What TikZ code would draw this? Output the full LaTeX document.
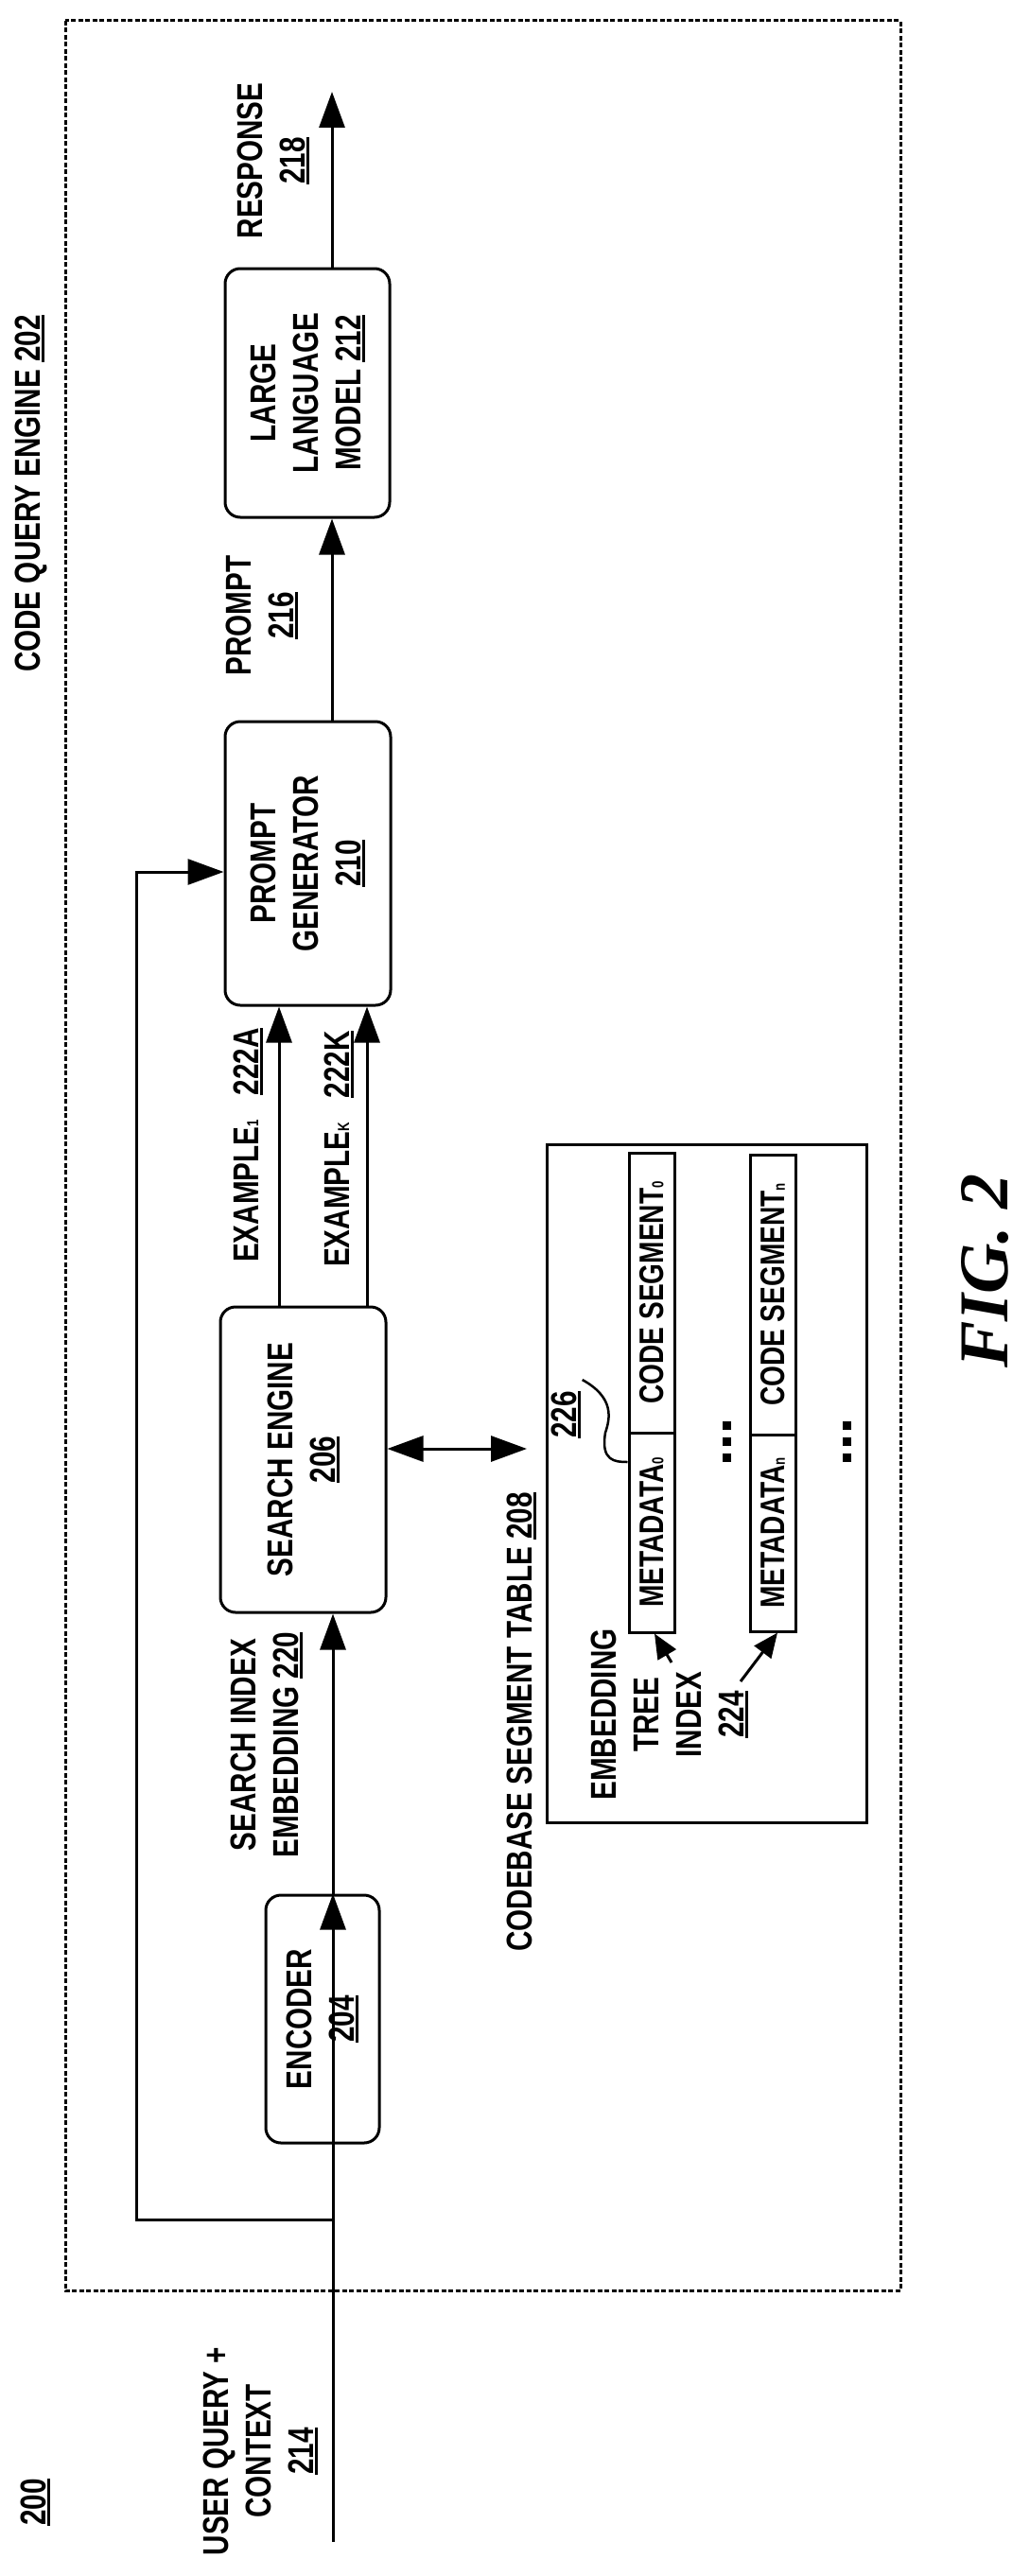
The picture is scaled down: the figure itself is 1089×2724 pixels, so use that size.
\documentclass[tikz,border=0pt]{standalone}
\usepackage{fontspec}
\setmainfont{Liberation Sans}[FakeStretch=0.78]
\newfontfamily\figfont{Liberation Serif}
\usetikzlibrary{arrows.meta}
\newcommand\ulnum[1]{\setbox0\hbox{#1}\rlap{\rule[-4.5pt]{\wd0}{2.6pt}}\box0}
\newcommand\lsub[1]{{\fontsize{17}{17}\selectfont #1}}
\begin{document}
\begin{tikzpicture}[x=1pt,y=-1pt,
  txt/.style={rotate=90,font=\bfseries\fontsize{38}{45}\selectfont,align=center,inner sep=0pt},
  box/.style={draw,line width=3pt,rounded corners=16pt,rotate=90,inner sep=0pt,font=\bfseries\fontsize{38}{45}\selectfont,align=center},
  cell/.style={draw,line width=3pt,rotate=90,inner sep=0pt,minimum height=48pt,font=\bfseries\fontsize{36}{42}\selectfont},
  arr/.style={line width=3pt,-{Triangle[length=38pt,width=27pt]}},
  sarr/.style={line width=3pt,-{Triangle[length=26pt,width=22pt]}},
  dot/.style={fill=black,minimum size=9pt,inner sep=0pt}]
\useasboundingbox (0,0) rectangle (1089,2724);
\fill[white] (0,0) rectangle (1089,2724);
% frame
\draw[line width=3pt,dash pattern=on 5pt off 2.5pt] (69,22) rectangle (952,2422);
\node[txt] (cqe) at (33,522) {CODE QUERY ENGINE \ulnum{202}};
% boxes
\node[box,minimum width=263pt,minimum height=174pt] (llm) at (325,415.5) {LARGE\\LANGUAGE\\MODEL \ulnum{212}};
\node[box,minimum width=300pt,minimum height=175pt] (pg) at (325.5,913) {PROMPT\\GENERATOR\\\ulnum{210}};
\node[box,minimum width=323pt,minimum height=175pt] (se) at (320.5,1543.5) {SEARCH ENGINE\\\ulnum{206}};
\node[box,minimum width=262pt,minimum height=120pt] (enc) at (341,2135) {ENCODER\\\ulnum{204}};
% table
\node[draw,line width=3pt,rotate=90,minimum width=717pt,minimum height=338pt,inner sep=0pt] (tbl) at (747,1568.5) {};
\node[cell,minimum width=296pt] (cs0) at (689,1367) {CODE SEGMENT\lsub{0}};
\node[cell,minimum width=211pt] (md0) at (689,1620.5) {METADATA\lsub{0}};
\node[cell,minimum width=296pt] (csn) at (817.5,1369) {CODE SEGMENT\lsub{n}};
\node[cell,minimum width=208pt] (mdn) at (817.5,1621) {METADATA\lsub{n}};
\foreach \xx/\nm in {768/a,895/b}{
  \node[dot] (\nm1) at (\xx,1507) {};
  \node[dot] (\nm2) at (\xx,1524) {};
  \node[dot] (\nm3) at (\xx,1541) {};
}
% labels
\node[txt] (resp) at (289,170) {RESPONSE\\\ulnum{218}};
\node[txt] (prm) at (277,651) {PROMPT\\\ulnum{216}};
\node[txt] (ex1) at (262,1211) {EXAMPLE\lsub{1}\hspace{26pt}\ulnum{222A}};
\node[txt] (exk) at (358,1215) {EXAMPLE\lsub{K}\hspace{26pt}\ulnum{222K}};
\node[txt] (sie) at (282,1845) {SEARCH INDEX\\EMBEDDING \ulnum{220}};
\node[txt] (cst) at (551,1821) {CODEBASE SEGMENT TABLE \ulnum{208}};
\node[txt] (l226) at (598,1496) {\ulnum{226}};
\node[txt] (eti) at (708,1813) {EMBEDDING\\TREE\\INDEX\\\ulnum{224}};
\node[txt] (uq) at (275,2592) {USER QUERY +\\CONTEXT\\\ulnum{214}};
\node[txt] (n200) at (37,2646) {\ulnum{200}};
\node[rotate=90,inner sep=0pt,font=\figfont\bfseries\itshape\fontsize{74}{74}\selectfont] (fig) at (1042,1344) {FIG. 2};
% connectors
\coordinate (in) at (352,2688);
\coordinate (rtop) at (351,97);
\coordinate (fb1) at (144,2347);
\coordinate (fb2) at (144,922);
\draw[arr] (in) -- (enc.east -| in);
\draw[arr] (enc.east -| in) -- (se.west -| in);
\draw[arr] (fb1 -| in) -- (fb1) -- (fb2) -- (pg.north |- fb2);
\draw[arr] (se.east -| 295,0) -- (pg.west -| 295,0);
\draw[arr] (se.east -| 388,0) -- (pg.west -| 388,0);
\draw[arr] (pg.east -| rtop) -- (llm.west -| rtop);
\draw[arr] (llm.east -| rtop) -- (rtop);
\draw[line width=3pt,{Triangle[length=38pt,width=27pt]}-{Triangle[length=38pt,width=27pt]}] (se.south |- 0,1532) -- (557,1532) coordinate (tblarr);
\coordinate (e1) at (710,1758);
\coordinate (e2) at (783,1778);
\draw[sarr] (e1) -- (md0.west -| 692,0);
\draw[sarr] (e2) -- (mdn.west -| 822,0);
\draw[line width=2.5pt] (l226.south east) ++(2,-12) coordinate (q0) .. controls (650,1478) and (645,1500) .. (640,1515) .. controls (635,1545) and (650,1546) .. (md0.north |- 0,1546);
\end{tikzpicture}
\end{document}
